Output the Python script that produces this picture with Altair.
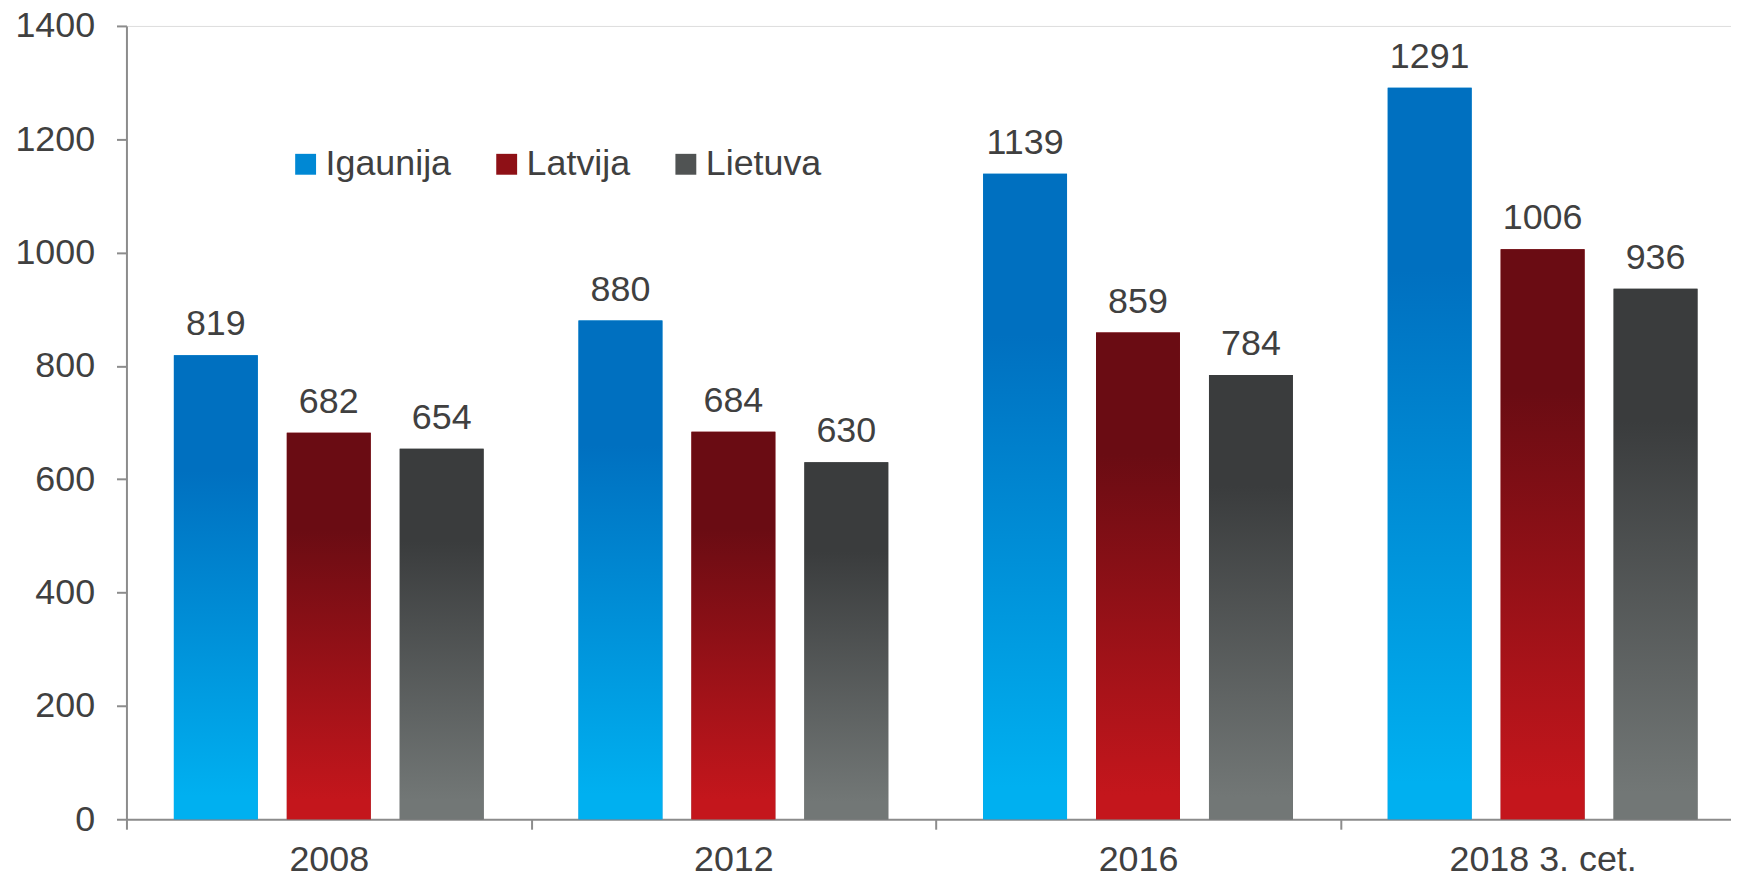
import altair as alt
import pandas as pd

years = ["2008", "2012", "2016", "2018 3. cet."]
series = ["Igaunija", "Latvija", "Lietuva"]
igaunija = [819, 880, 1139, 1291]
latvija = [682, 684, 859, 1006]
lietuva = [654, 630, 784, 936]
y_ticks = [0, 200, 400, 600, 800, 1000, 1200, 1400]

dark = {"Igaunija": "#0070C0", "Latvija": "#6A0C13", "Lietuva": "#3A3C3D"}
light = {"Igaunija": "#00B0F0", "Latvija": "#C4161C", "Lietuva": "#727776"}
solid = ["#0088D4", "#8E1016", "#505353"]

rows = []
for s, vals in zip(series, [igaunija, latvija, lietuva]):
    for yr, v in zip(years, vals):
        rows.append({"year": yr, "series": s, "value": v})
df = pd.DataFrame(rows)

FONT = "Liberation Sans"
TXT = "#404040"
AX = "#8C8C8C"


def grad(s):
    return alt.Gradient(
        gradient="linear",
        x1=0, x2=0, y1=0, y2=1,
        stops=[
            alt.GradientStop(offset=0, color=dark[s]),
            alt.GradientStop(offset=0.25, color=dark[s]),
            alt.GradientStop(offset=0.95, color=light[s]),
            alt.GradientStop(offset=1, color=light[s]),
        ],
    )


base = alt.Chart(df).encode(
    x=alt.X(
        "year:N", sort=years, title=None,
        scale=alt.Scale(domain=years, paddingInner=0, paddingOuter=0),
        axis=alt.Axis(
            labelAngle=0, tickBand="extent", tickSize=10, labelPadding=13,
            labelFontSize=36, labelFont=FONT, labelColor=TXT, labelLimit=0,
            domainColor=AX, tickColor=AX, domainWidth=2, tickWidth=2,
        ),
    ),
    xOffset=alt.XOffset(
        "series:N", sort=series,
        scale=alt.Scale(domain=series, paddingInner=0.257, paddingOuter=0.42),
    ),
    y=alt.Y(
        "value:Q", title=None,
        scale=alt.Scale(domain=[0, 1400], nice=False),
        axis=alt.Axis(
            values=y_ticks, grid=False, tickSize=10, labelPadding=22, format="d",
            labelFontSize=36, labelFont=FONT, labelColor=TXT,
            domainColor=AX, tickColor=AX, domainWidth=2, tickWidth=2,
        ),
    ),
)

solid_bars = base.mark_bar().encode(
    color=alt.Color(
        "series:N", sort=series,
        scale=alt.Scale(domain=series, range=solid),
        legend=alt.Legend(
            title=None, orient="none", legendX=162, legendY=121,
            direction="horizontal", symbolType="square", symbolSize=440,
            labelFontSize=36, labelFont=FONT, labelColor=TXT, labelOffset=2,
            columnPadding=37, padding=0, labelLimit=0, symbolStrokeWidth=0,
            symbolOpacity=1,
        ),
    )
)

layers = [solid_bars]
for s in series:
    layers.append(
        base.transform_filter(alt.datum.series == s).mark_bar(color=grad(s))
    )

labels = base.mark_text(
    baseline="alphabetic", dy=-20, fontSize=36, font=FONT, color=TXT
).encode(text="value:Q")
layers.append(labels)

chart = alt.layer(*layers).properties(
    width=1626, height=797,
    autosize=alt.AutoSizeParams(type="none"),
    padding={"left": 119, "top": 16, "right": -14, "bottom": 52},
).configure_view(stroke=None).configure(font=FONT)

chart.save("out.html", embed_options={"renderer": "svg", "actions": False})
